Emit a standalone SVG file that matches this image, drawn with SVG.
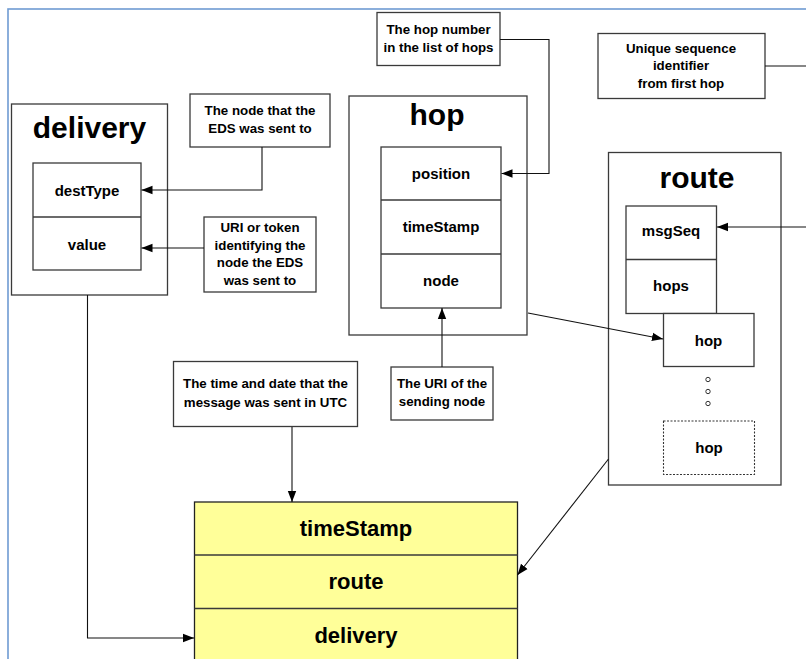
<svg xmlns="http://www.w3.org/2000/svg" width="806" height="659" viewBox="0 0 806 659">
<defs>
<marker id="ah" markerUnits="userSpaceOnUse" markerWidth="12" markerHeight="10" refX="11" refY="5" orient="auto">
<path d="M0,0.8 L11,5 L0,9.2 Z" fill="#000"/>
</marker>
<style>
.box{fill:#fff;stroke:#3a3a3a;stroke-width:1.3}
.cell{fill:none;stroke:#3a3a3a;stroke-width:1.3}
.yel{fill:#ffff99;stroke:#222;stroke-width:1.3}
.con{fill:none;stroke:#111;stroke-width:1.1}
.arr{marker-end:url(#ah)}
text{font-family:"Liberation Sans",Arial,sans-serif;font-weight:bold;fill:#000;text-anchor:middle}
.title{font-size:30px}
.cellt{font-size:15px}
.note{font-size:13.3px}
.big{font-size:22px}
</style>
</defs>
<rect x="0" y="0" width="806" height="659" fill="#fff"/>
<rect x="8" y="9" width="830" height="680" fill="none" stroke="#6f9bd3" stroke-width="1.6"/>

<g id="delivery">
<rect class="box" x="11.5" y="104" width="156" height="191"/>
<text class="title" x="89.5" y="138">delivery</text>
<rect class="cell" x="33" y="163" width="108" height="107"/>
<line class="cell" x1="33" y1="217" x2="141" y2="217"/>
<text class="cellt" x="87" y="196">destType</text>
<text class="cellt" x="87" y="250">value</text>
</g>

<g id="note-node">
<rect class="box" x="190" y="94" width="140" height="53"/>
<text class="note" x="260" y="115">The node that the</text>
<text class="note" x="260" y="133">EDS was sent to</text>
</g>

<g id="note-uri">
<rect class="box" x="204" y="217" width="112" height="75"/>
<text class="note" x="260" y="232">URI or token</text>
<text class="note" x="260" y="249.5">identifying the</text>
<text class="note" x="260" y="267">node the EDS</text>
<text class="note" x="260" y="284.5">was sent to</text>
</g>

<g id="note-hopnum">
<rect class="box" x="377" y="12.5" width="123" height="53"/>
<text class="note" x="438.5" y="33.5">The hop number</text>
<text class="note" x="438.5" y="51.5">in the list of hops</text>
</g>

<g id="hop">
<rect class="box" x="349" y="96" width="178" height="239"/>
<text class="title" x="437" y="125">hop</text>
<rect class="cell" x="381" y="147" width="120" height="161"/>
<line class="cell" x1="381" y1="200" x2="501" y2="200"/>
<line class="cell" x1="381" y1="254" x2="501" y2="254"/>
<text class="cellt" x="441" y="178.5">position</text>
<text class="cellt" x="441" y="232">timeStamp</text>
<text class="cellt" x="441" y="285.5">node</text>
</g>

<g id="note-sending">
<rect class="box" x="391" y="367" width="102" height="53"/>
<text class="note" x="442" y="388">The URI of the</text>
<text class="note" x="442" y="406">sending node</text>
</g>

<g id="note-unique">
<rect class="box" x="598" y="33.5" width="167" height="65"/>
<text class="note" x="681" y="52.5">Unique sequence</text>
<text class="note" x="681" y="70">identifier</text>
<text class="note" x="681" y="87.5">from first hop</text>
</g>

<g id="route">
<rect class="box" x="608.5" y="152.5" width="172.5" height="332.5"/>
<text class="title" x="697" y="188">route</text>
<rect class="cell" x="626" y="206" width="90.5" height="107.5"/>
<line class="cell" x1="626" y1="259.5" x2="716.5" y2="259.5"/>
<text class="cellt" x="671" y="235.5">msgSeq</text>
<text class="cellt" x="671" y="291">hops</text>
</g>

<g id="route-hop1">
<rect class="box" x="663.5" y="313.5" width="90.5" height="53"/>
<text class="cellt" x="708.5" y="345.5">hop</text>
</g>

<g id="route-dots" fill="#fff" stroke="#333" stroke-width="1">
<circle cx="708" cy="379.5" r="2.2"/>
<circle cx="708" cy="391.5" r="2.2"/>
<circle cx="708" cy="403.5" r="2.2"/>
</g>

<g id="route-hopn">
<rect x="663.5" y="421" width="91" height="53.5" fill="#fff" stroke="#333" stroke-width="1.1" stroke-dasharray="2,1.5"/>
<text class="cellt" x="709" y="452.5">hop</text>
</g>

<g id="note-time">
<rect class="box" x="173.5" y="361.5" width="184" height="65"/>
<text class="note" x="265.5" y="388">The time and date that the</text>
<text class="note" x="265.5" y="406.5">message was sent in UTC</text>
</g>

<g id="message">
<rect class="yel" x="194.5" y="502" width="323" height="180"/>
<line class="cell" x1="194.5" y1="555" x2="517.5" y2="555"/>
<line class="cell" x1="194.5" y1="608.5" x2="517.5" y2="608.5"/>
<text class="big" x="356" y="535.5">timeStamp</text>
<text class="big" x="356" y="589">route</text>
<text class="big" x="356" y="642.5">delivery</text>
</g>

<g id="connectors">
<path class="con arr" d="M262,147 V190 H141.5"/>
<path class="con arr" d="M204,248 H141.5"/>
<path class="con arr" d="M87.5,295 V638 H194"/>
<path class="con arr" d="M500,39.5 H549 V173.5 H501.5"/>
<path class="con arr" d="M442,367 V308"/>
<path class="con" d="M765,66 H812"/>
<path class="con arr" d="M812,227 H717"/>
<path class="con arr" d="M528,313 L663,339"/>
<path class="con arr" d="M608.5,459 L517.5,575"/>
<path class="con arr" d="M292,427 V502"/>
</g>
</svg>
